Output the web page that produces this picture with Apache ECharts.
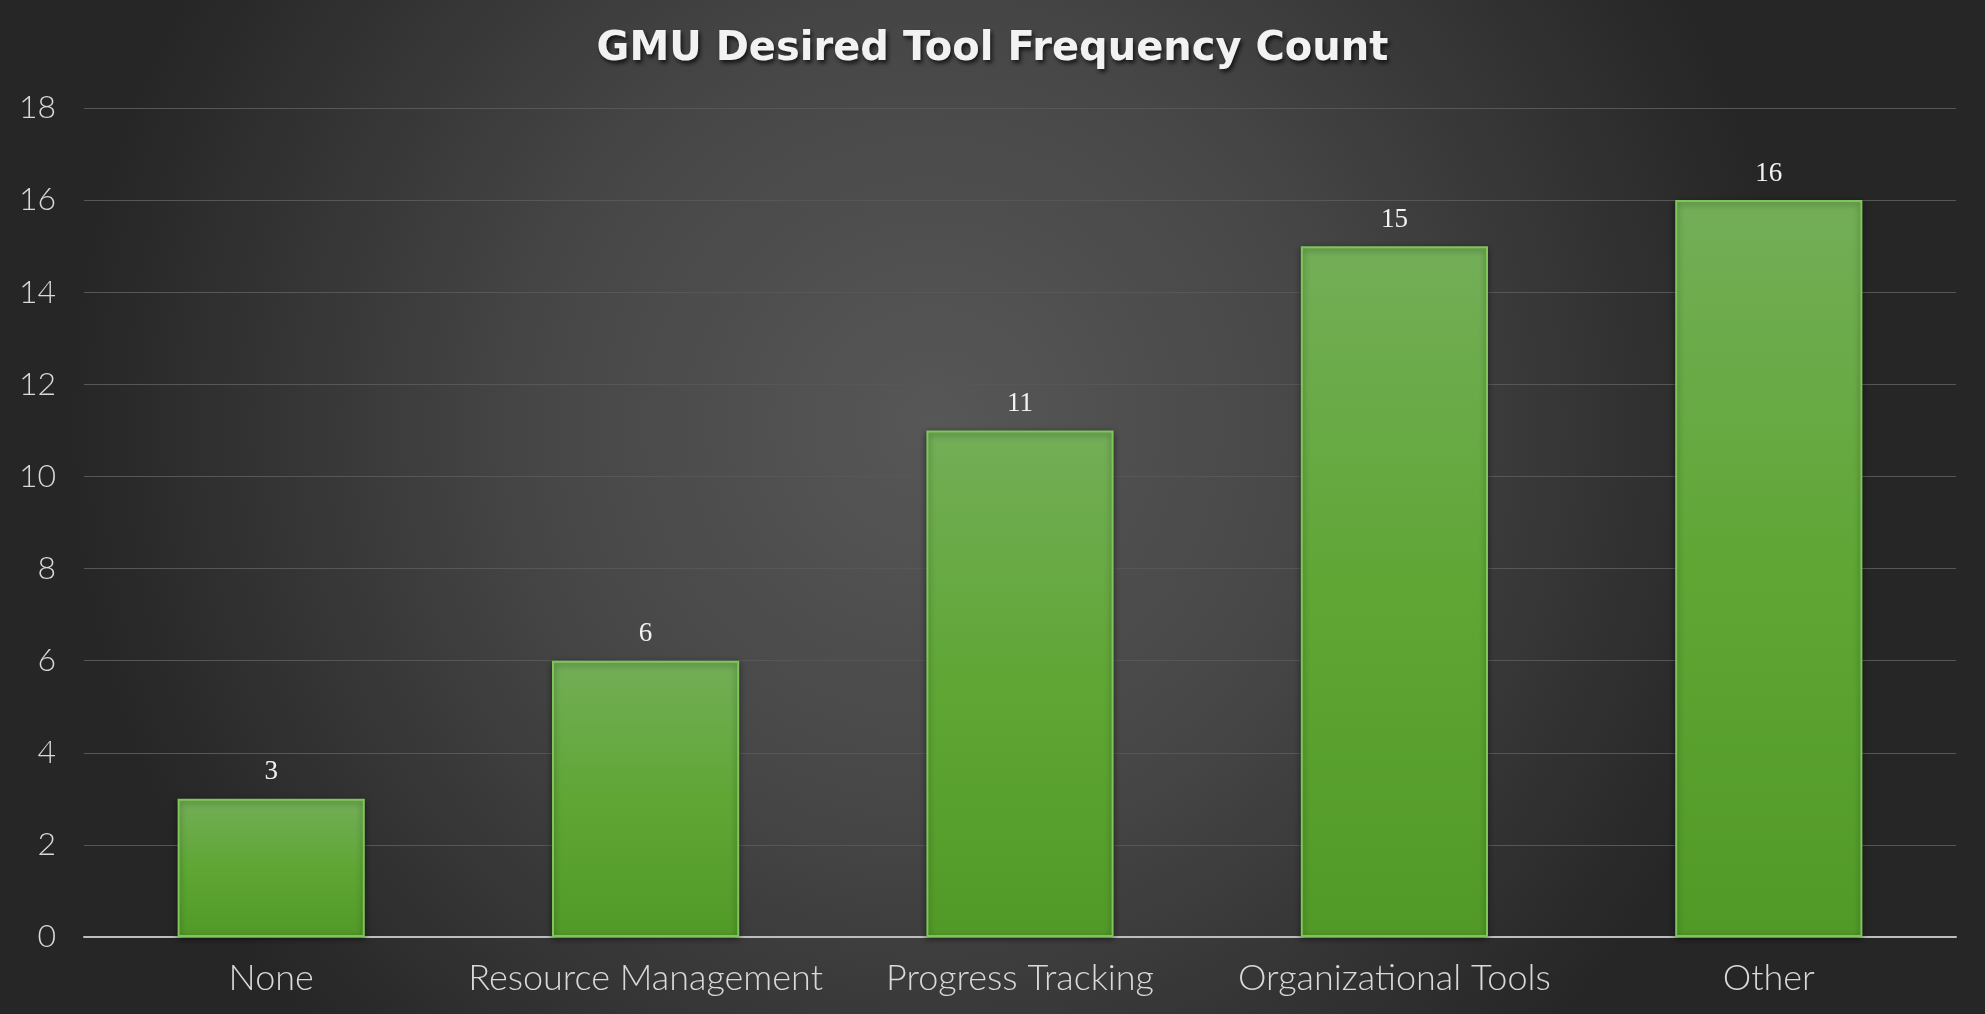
<!DOCTYPE html>
<html>
<head>
<meta charset="utf-8">
<style>
  html, body { margin: 0; padding: 0; background: #2b2b2b; }
  #chart { width: 1985px; height: 1014px; }
</style>
<script src="https://cdn.jsdelivr.net/npm/echarts@6/dist/echarts.min.js"></script>
</head>
<body>
<div id="chart"></div>
<script>
var categories = ['None', 'Resource Management', 'Progress Tracking', 'Organizational Tools', 'Other'];
var counts = [3, 6, 11, 15, 16];
var yTicks = [0, 2, 4, 6, 8, 10, 12, 14, 16, 18];

var chart = echarts.init(document.getElementById('chart'));

chart.setOption({
  backgroundColor: {
    type: 'radial', x: 0.47, y: 0.42, r: 0.85,
    colorStops: [
      { offset: 0, color: '#575757' },
      { offset: 0.45, color: '#474747' },
      { offset: 1, color: '#262626' }
    ]
  },
  title: {
    text: 'GMU Desired Tool Frequency Count',
    left: 'center',
    top: 25,
    textStyle: {
      fontFamily: 'DejaVu Sans',
      fontWeight: 'bold',
      fontSize: 40,
      color: '#f2f2f2',
      textShadowColor: 'rgba(0,0,0,0.7)',
      textShadowBlur: 4,
      textShadowOffsetX: 2,
      textShadowOffsetY: 3
    }
  },
  grid: { left: 84, right: 29, top: 108, bottom: 77 },
  xAxis: {
    type: 'category',
    data: categories,
    axisTick: { show: false },
    axisLine: { lineStyle: { color: '#bdbdbd', width: 2 } },
    axisLabel: {
      interval: 0,
      margin: 23,
      color: '#d9d9d9',
      fontFamily: 'Lato',
      fontWeight: 300,
      fontSize: 36
    }
  },
  yAxis: {
    type: 'value',
    min: yTicks[0],
    max: yTicks[yTicks.length - 1],
    interval: 2,
    axisLine: { show: false },
    axisTick: { show: false },
    axisLabel: {
      margin: 28,
      color: '#d9d9d9',
      fontFamily: 'Lato',
      fontWeight: 300,
      fontSize: 32
    },
    splitLine: { lineStyle: { color: '#575757', width: 1 } }
  },
  series: [{
    type: 'bar',
    data: counts,
    barWidth: '50%',
    itemStyle: {
      color: {
        type: 'linear', x: 0, y: 0, x2: 0, y2: 1,
        colorStops: [
          { offset: 0, color: '#73ae57' },
          { offset: 0.5, color: '#5fa635' },
          { offset: 1, color: '#529a28' }
        ]
      },
      borderColor: '#7fc65a',
      borderWidth: 2,
      shadowColor: 'rgba(0,0,0,0.45)',
      shadowBlur: 6,
      shadowOffsetY: 2
    },
    label: {
      show: true,
      position: 'top',
      distance: 13,
      color: '#f2f2f2',
      fontFamily: 'Liberation Serif',
      fontSize: 27
    }
  }]
});
</script>
</body>
</html>
